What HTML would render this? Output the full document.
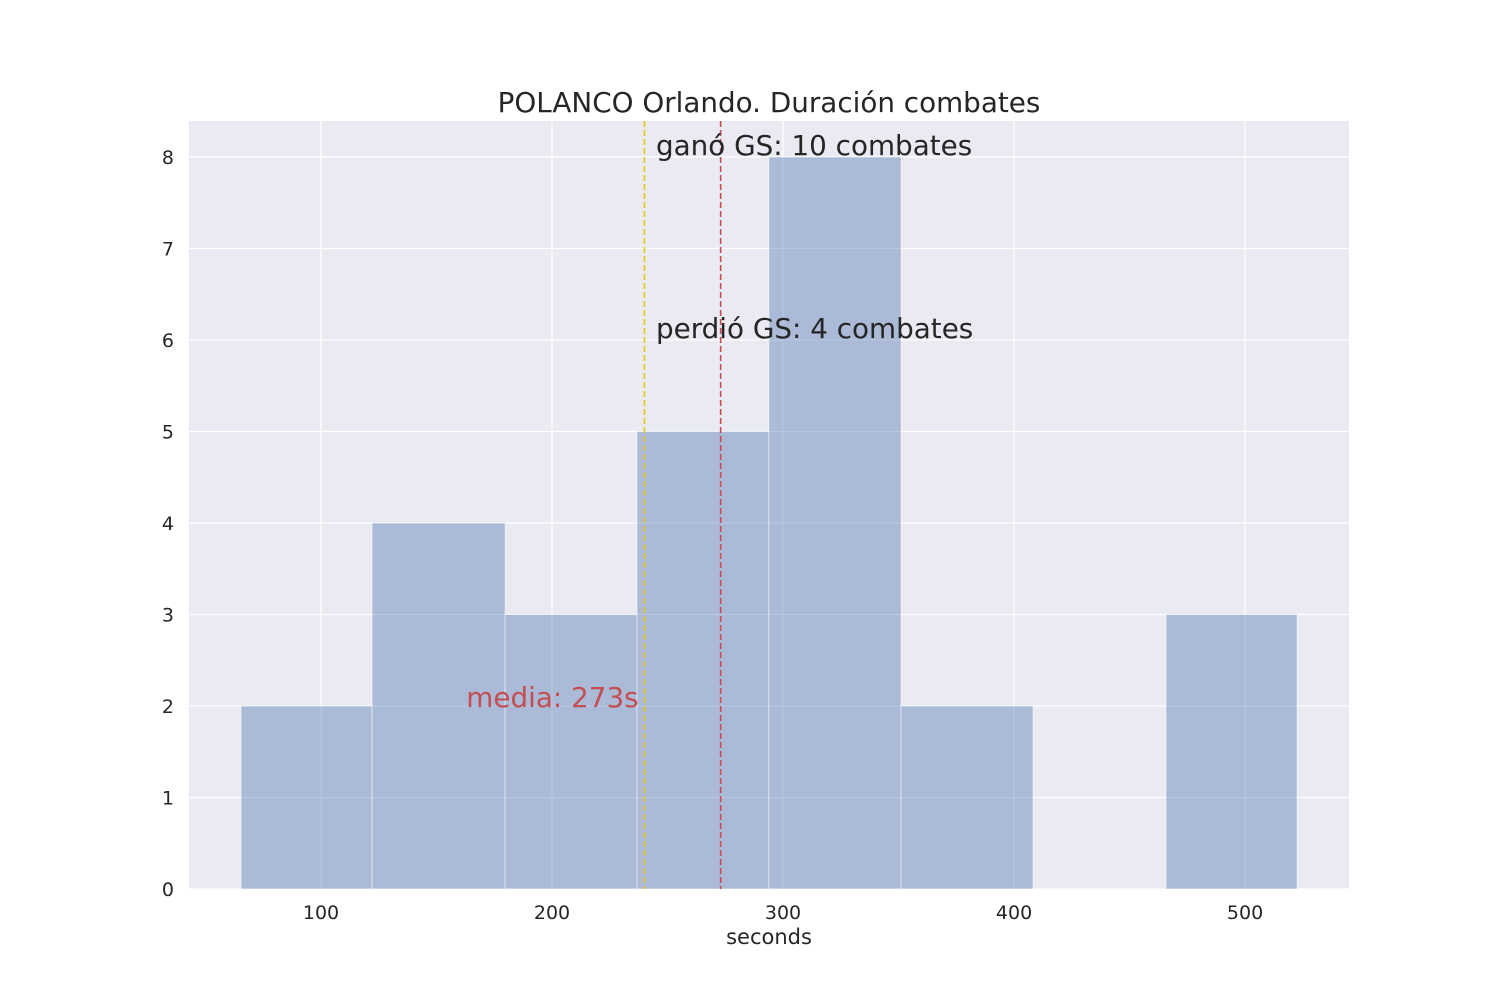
<!DOCTYPE html>
<html><head><meta charset="utf-8"><style>
body{margin:0;background:#fff;}
svg{display:block;font-family:"DejaVu Sans","Liberation Sans",sans-serif;}
</style></head><body>
<svg id="chart" width="1500" height="1000" xmlns="http://www.w3.org/2000/svg"></svg>
<script>
const binEdges=[65.4,122.1,179.7,236.8,293.9,351.1,408.2,465.8,522.5];
const counts=[2,4,3,5,8,2,0,3];
const xTicks=[100,200,300,400,500];
const yTicks=[0,1,2,3,4,5,6,7,8];
const meanVal=[273];
const gsVal=[240];
const annotations=["ganó GS: 10 combates","perdió GS: 4 combates","media: 273s"];

const L=189,R=1349,T=121,B=889;
const xMin=42.86,xMax=545.0,yMin=0,yMax=8.393;
const sx=v=>L+(v-xMin)/(xMax-xMin)*(R-L);
const sy=v=>B-(v-yMin)/(yMax-yMin)*(B-T);
const svg=document.getElementById('chart');
const NS='http://www.w3.org/2000/svg';
function mk(tag,attrs,parent){const e=document.createElementNS(NS,tag);for(const k in attrs)e.setAttribute(k,attrs[k]);(parent||svg).appendChild(e);return e;}

const bg=mk('rect',{x:L,y:T,width:R-L,height:B-T,fill:'#eaeaf2'});


xTicks.forEach(t=>{
  const g=mk('line',{x1:sx(t),x2:sx(t),y1:T,y2:B,stroke:'#fff','stroke-width':1.3});
  
  
  const tx=mk('text',{x:sx(t),y:B+30,'text-anchor':'middle','font-size':19,fill:'#262626'});
  tx.textContent=t;
  
  
});
yTicks.forEach(t=>{
  const g=mk('line',{x1:L,x2:R,y1:sy(t),y2:sy(t),stroke:'#fff','stroke-width':1.3});
  
  
  const tx=mk('text',{x:L-15,y:sy(t)+7,'text-anchor':'end','font-size':19,fill:'#262626'});
  tx.textContent=t;
  
  
});
counts.forEach((c,i)=>{
  if(c<=0)return;
  const x0=sx(binEdges[i]),x1=sx(binEdges[i+1]);
  const r=mk('rect',{x:x0,y:sy(c),width:x1-x0,height:sy(0)-sy(c),fill:'#4c72b0','fill-opacity':0.4,stroke:'#fff','stroke-opacity':0.5,'stroke-width':1});
  
  
});
const gl=mk('line',{x1:sx(gsVal[0]),x2:sx(gsVal[0]),y1:T,y2:B,stroke:'#e6c619','stroke-width':1.6,'stroke-dasharray':'6,3'});


const ml=mk('line',{x1:sx(meanVal[0]),x2:sx(meanVal[0]),y1:T,y2:B,stroke:'#c44e52','stroke-width':1.6,'stroke-dasharray':'6,3'});


const a1=mk('text',{x:sx(245),y:sy(8)-2,'font-size':27.8,fill:'#262626'});a1.textContent=annotations[0];


const a2=mk('text',{x:sx(245),y:sy(6)-2,'font-size':27.8,fill:'#262626'});a2.textContent=annotations[1];


const a3=mk('text',{x:sx(237.5),y:sy(2)+1,'text-anchor':'end','font-size':27.8,fill:'#c44e52'});a3.textContent=annotations[2];


const title=mk('text',{x:(L+R)/2,y:112,'text-anchor':'middle','font-size':27.8,fill:'#262626'});title.textContent='POLANCO Orlando. Duración combates';


const xl=mk('text',{x:(L+R)/2,y:944,'text-anchor':'middle','font-size':21,fill:'#262626'});xl.textContent='seconds';


</script>
</body></html>
